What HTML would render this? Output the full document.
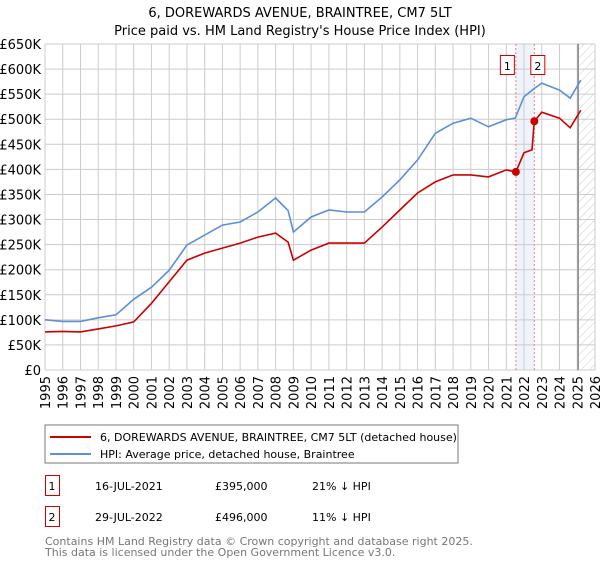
<!DOCTYPE html>
<html><head><meta charset="utf-8"><style>
body{margin:0;background:#fff;font-family:"Liberation Sans","DejaVu Sans",sans-serif;}
svg text{font-family:"DejaVu Sans","Liberation Sans",sans-serif;}
</style></head><body>
<svg id="c" width="600" height="560" xmlns="http://www.w3.org/2000/svg">
<defs><pattern id="hatch" width="6" height="6" patternUnits="userSpaceOnUse" patternTransform="rotate(45)"><line x1="0" y1="0" x2="0" y2="6" stroke="#ccc" stroke-width="1"/></pattern></defs>
<text x="300" y="17" text-anchor="middle" font-size="13" fill="#000">6, DOREWARDS AVENUE, BRAINTREE, CM7 5LT</text>
<text x="300" y="35" text-anchor="middle" font-size="13" fill="#000">Price paid vs. HM Land Registry's House Price Index (HPI)</text>
<g id="grid"></g><g id="marks"></g><g id="axes"></g>
<rect x="45" y="425" width="413" height="38" fill="#fff" stroke="#777"/>
<line x1="50" y1="437" x2="91" y2="437" stroke="#cc0000" stroke-width="2"/>
<text x="100" y="441" font-size="11">6, DOREWARDS AVENUE, BRAINTREE, CM7 5LT (detached house)</text>
<line x1="50" y1="454" x2="91" y2="454" stroke="#5b8fd6" stroke-width="2"/>
<text x="100" y="458" font-size="11">HPI: Average price, detached house, Braintree</text>
<g font-size="11">
<rect x="45.5" y="475.5" width="14" height="20" fill="#fff" stroke="#cc0000"/><text x="48.5" y="490">1</text>
<text x="95" y="490">16-JUL-2021</text>
<text x="215" y="490">£395,000</text>
<text x="312" y="490">21% ↓ HPI</text>
<rect x="45.5" y="506.5" width="14" height="20" fill="#fff" stroke="#cc0000"/><text x="48.5" y="521">2</text>
<text x="95" y="521">29-JUL-2022</text>
<text x="215" y="521">£496,000</text>
<text x="312" y="521">11% ↓ HPI</text>
</g>
<text x="45" y="545" font-size="11" fill="#777">Contains HM Land Registry data © Crown copyright and database right 2025.</text>
<text x="45" y="556" font-size="11" fill="#777">This data is licensed under the Open Government Licence v3.0.</text>
</svg>
<script>
const hpiYears=[1995,1996,1997,1998,1999,2000,2001,2002,2003,2004,2005,2006,2007,2008,2008.7,2009,2010,2011,2012,2013,2014,2015,2016,2017,2018,2019,2020,2021,2021.5,2022,2022.6,2023,2024,2024.6,2025.2];
const hpiValues=[100,97,97,104,110,141,165,199,249,269,289,295,315,343,318,275,305,319,315,315,345,379,419,472,492,502,485,499,502,545,562,572,558,542,578];
const paidYears=[1995,1996,1997,1998,1999,2000,2001,2002,2003,2004,2005,2006,2007,2008,2008.7,2009,2010,2011,2012,2013,2014,2015,2016,2017,2018,2019,2020,2021,2021.54,2022,2022.45,2022.58,2023,2024,2024.6,2025.2];
const paidValues=[76,77,76,82,88,96,133,176,219,233,243,253,265,273,255,219,239,253,253,253,285,319,353,375,389,389,385,399,395,433,439,496,514,502,483,518];
const saleYears=[2021.54,2022.58];
const saleValues=[395,496];
const saleLabels=["1","2"];
const yTicks=[0,50,100,150,200,250,300,350,400,450,500,550,600,650];
const yTickLabels=["£0","£50K","£100K","£150K","£200K","£250K","£300K","£350K","£400K","£450K","£500K","£550K","£600K","£650K"];
const xTicks=[1995,1996,1997,1998,1999,2000,2001,2002,2003,2004,2005,2006,2007,2008,2009,2010,2011,2012,2013,2014,2015,2016,2017,2018,2019,2020,2021,2022,2023,2024,2025,2026];
const X0=45,X1=595,Y0=370,Y1=44;
const xs=y=>X0+(y-1995)/(2026-1995)*(X1-X0);
const ys=v=>Y0-v/650*(Y0-Y1);
const NS="http://www.w3.org/2000/svg";
function mk(t,a,p){const e=document.createElementNS(NS,t);for(const k in a)e.setAttribute(k,a[k]);p.appendChild(e);return e;}
const grid=document.getElementById('grid'),marks=document.getElementById('marks'),axes=document.getElementById('axes');
// band, hatch
let band=mk('rect',{x:xs(saleYears[0]),y:Y1,width:xs(saleYears[1])-xs(saleYears[0]),height:Y0-Y1,fill:'#eef3fc'},grid);


let hx=xs(2025.05);
let hatch=mk('rect',{x:hx,y:Y1,width:X1-hx,height:Y0-Y1,fill:'url(#hatch)'},grid);


yTicks.forEach((v,i)=>{
 let l=mk('line',{x1:X0,x2:X1,y1:ys(v),y2:ys(v),stroke:'#ccc'},grid);
 
 
 let t=mk('text',{x:X0-4,y:ys(v)+5,'text-anchor':'end','font-size':'13'},axes);t.textContent=yTickLabels[i];
 
 
});
xTicks.forEach(y=>{
 let l=mk('line',{x1:xs(y),x2:xs(y),y1:Y1,y2:Y0,stroke:'#ccc'},grid);
 
 
 let t=mk('text',{x:0,y:0,'font-size':'13','text-anchor':'end',transform:`translate(${xs(y)+5},376) rotate(-90)`},axes);t.textContent=y;
 
 
});
let fl=mk('line',{x1:hx,x2:hx,y1:Y1,y2:Y0,stroke:'#888','stroke-width':1.5},grid);


saleYears.forEach((y,i)=>{
 let l=mk('line',{x1:xs(y),x2:xs(y),y1:Y1,y2:Y0,stroke:'#f08080','stroke-dasharray':'2,2'},grid);
 
 
});
function path(xa,va,col,name){
 let d=xa.map((y,i)=>(i?'L':'M')+xs(y).toFixed(1)+','+ys(va[i]).toFixed(1)).join('');
 let p=mk('path',{d:d,fill:'none',stroke:col,'stroke-width':1.6},marks);
 
 
}
path(hpiYears,hpiValues,'#5b8fd6','hpi-line');
path(paidYears,paidValues,'#cc0000','price-paid-line');
saleYears.forEach((y,i)=>{
 let c=mk('circle',{cx:xs(y),cy:ys(saleValues[i]),r:4,fill:'#cc0000'},marks);
 
 
 let bx=xs(y)-(i==0?14:0)-(i==0?1:-1)*1;
 let r=mk('rect',{x:(i==0?xs(y)-15.5:xs(y)-3.5),y:55.5,width:14,height:19,fill:'#fff',stroke:'#cc0000'},marks);
 
 
 let t=mk('text',{x:(i==0?xs(y)-8.5:xs(y)+3.5),y:70,'text-anchor':'middle','font-size':'11'},marks);t.textContent=saleLabels[i];
 
 
});
</script>
</body></html>
